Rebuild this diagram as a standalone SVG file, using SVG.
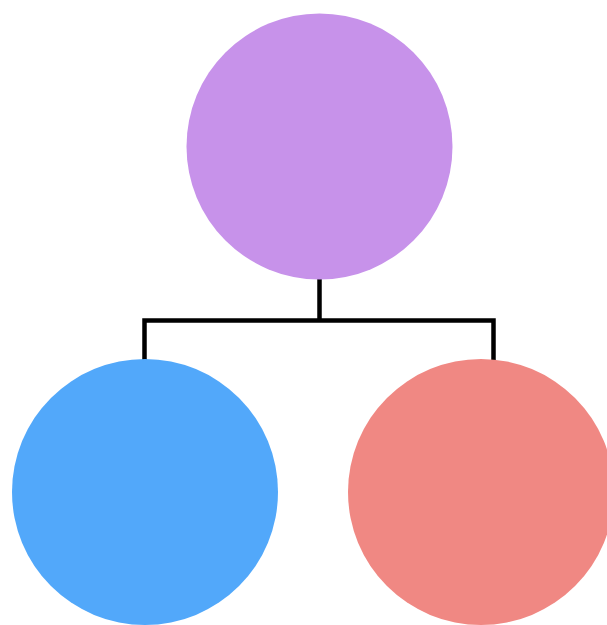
<svg xmlns="http://www.w3.org/2000/svg" width="607" height="625" viewBox="0 0 607 625">
<style>
.conn{fill:none;stroke:#000;stroke-width:4.5;stroke-linecap:butt;stroke-linejoin:miter}
</style>
<rect width="607" height="625" fill="#fff"/>
<g id="connectors">
<path class="conn" d="M319.5,279 V320.5 M144.5,360 V320.5 H493.5 V360"/>
</g>
<g id="node-top"><circle cx="319.5" cy="146.5" r="133" fill="#C792EA"/></g>
<g id="node-left"><circle cx="145" cy="492" r="133" fill="#52A8FA"/></g>
<g id="node-right"><circle cx="481" cy="492" r="133" fill="#F08883"/></g>
</svg>
